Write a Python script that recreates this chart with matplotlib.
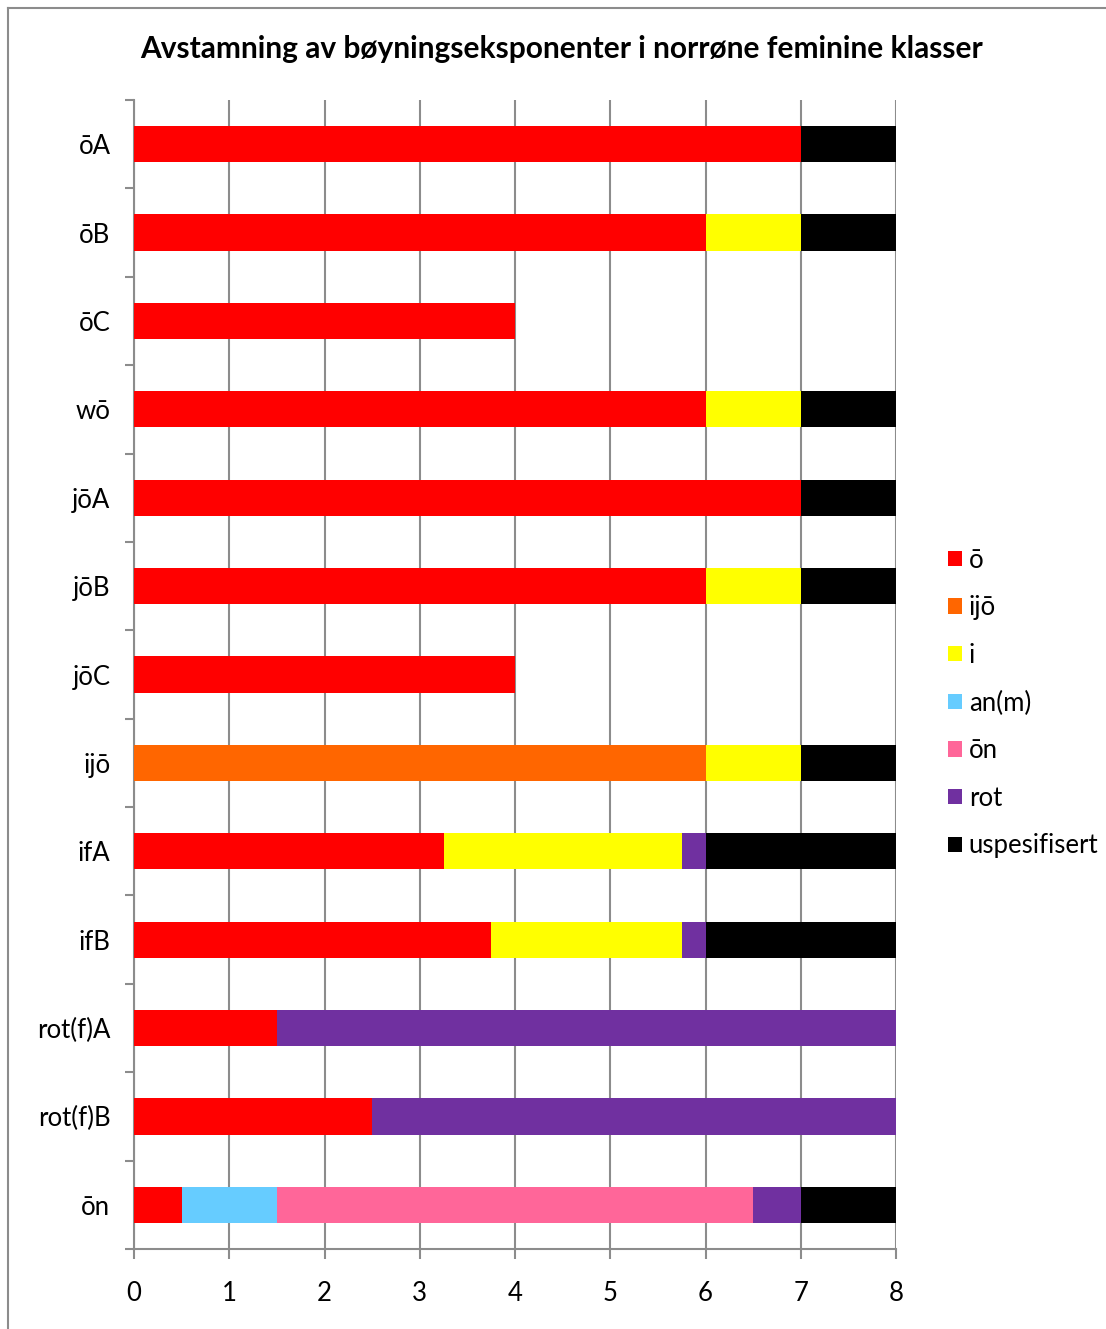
#!/usr/bin/env python
# -*- coding: utf-8 -*-
import matplotlib
matplotlib.use("Agg")
import matplotlib.pyplot as plt
from matplotlib.lines import Line2D
import numpy as np

plt.rcParams['font.family'] = ['Lato', 'DejaVu Sans']

# data
categories = ["ōA", "ōB", "ōC", "wō", "jōA", "jōB", "jōC", "ijō",
              "ifA", "ifB", "rot(f)A", "rot(f)B", "ōn"]
s_o     = [7, 6, 4, 6, 7, 6, 4, 0, 3.25, 3.75, 1.5, 2.5, 0.5]
s_ijo   = [0, 0, 0, 0, 0, 0, 0, 6, 0, 0, 0, 0, 0]
s_i     = [0, 1, 0, 1, 0, 1, 0, 1, 2.5, 2, 0, 0, 0]
s_anm   = [0, 0, 0, 0, 0, 0, 0, 0, 0, 0, 0, 0, 1]
s_on    = [0, 0, 0, 0, 0, 0, 0, 0, 0, 0, 0, 0, 5]
s_rot   = [0, 0, 0, 0, 0, 0, 0, 0, 0.25, 0.25, 6.5, 5.5, 0.5]
s_usp   = [1, 1, 0, 1, 1, 1, 0, 1, 2, 2, 0, 0, 1]

series = [("ō", s_o, "#FF0000"),
          ("ijō", s_ijo, "#FF6600"),
          ("i", s_i, "#FFFF00"),
          ("an(m)", s_anm, "#66CCFF"),
          ("ōn", s_on, "#FF6699"),
          ("rot", s_rot, "#7030A0"),
          ("uspesifisert", s_usp, "#000000")]

GRAY = "#8c8c8c"

fig = plt.figure(figsize=(11.06, 13.29), dpi=100)
ax = fig.add_axes([134/1106, 1 - 1249/1329, (896-134)/1106, (1249-100)/1329])

y = np.arange(len(categories))
left = np.zeros(len(categories))
for name, vals, col in series:
    vals = np.array(vals, dtype=float)
    ax.barh(y, vals, left=left, height=0.41, color=col, label=name,
            linewidth=0, zorder=3)
    left += vals

ax.set_xlim(0, 8)
ax.set_ylim(len(categories) - 0.5, -0.5)
ax.set_xticks(range(0, 9))
ax.set_yticks(y)
ax.set_yticklabels(categories)
ax.set_yticks(np.arange(-0.5, len(categories)), minor=True)

ax.grid(axis="x", color=GRAY, linewidth=1.5, zorder=0)
ax.set_axisbelow(True)
for s in ["top", "right"]:
    ax.spines[s].set_visible(False)
for s in ["left", "bottom"]:
    ax.spines[s].set_color(GRAY)
    ax.spines[s].set_linewidth(1.5)

ax.tick_params(axis="y", which="major", length=0, pad=17, labelsize=18.5)
ax.tick_params(axis="y", which="minor", length=6.5, width=1.5, color=GRAY)
ax.tick_params(axis="x", which="major", length=7, width=1.5, color=GRAY,
               pad=16, labelsize=18.5)

fig.text(0.508, 1 - 49/1329, "Avstamning av bøyningseksponenter i norrøne feminine klasser",
         ha="center", va="center", fontsize=21.5, fontweight="bold")

fig.legend(loc="center left", bbox_to_anchor=(938/1106, 1 - 703/1329),
           frameon=False, fontsize=18.5, handlelength=0.55, handleheight=0.55,
           handletextpad=0.25, labelspacing=0.88, borderaxespad=0)

# outer chart frame
fig.add_artist(Line2D([8/1106, 8/1106], [0, 1 - 8/1329], color=GRAY, linewidth=1.5))
fig.add_artist(Line2D([8/1106, 1], [1 - 8/1329, 1 - 8/1329], color=GRAY, linewidth=1.5))

fig.savefig("out.png", dpi=100)
